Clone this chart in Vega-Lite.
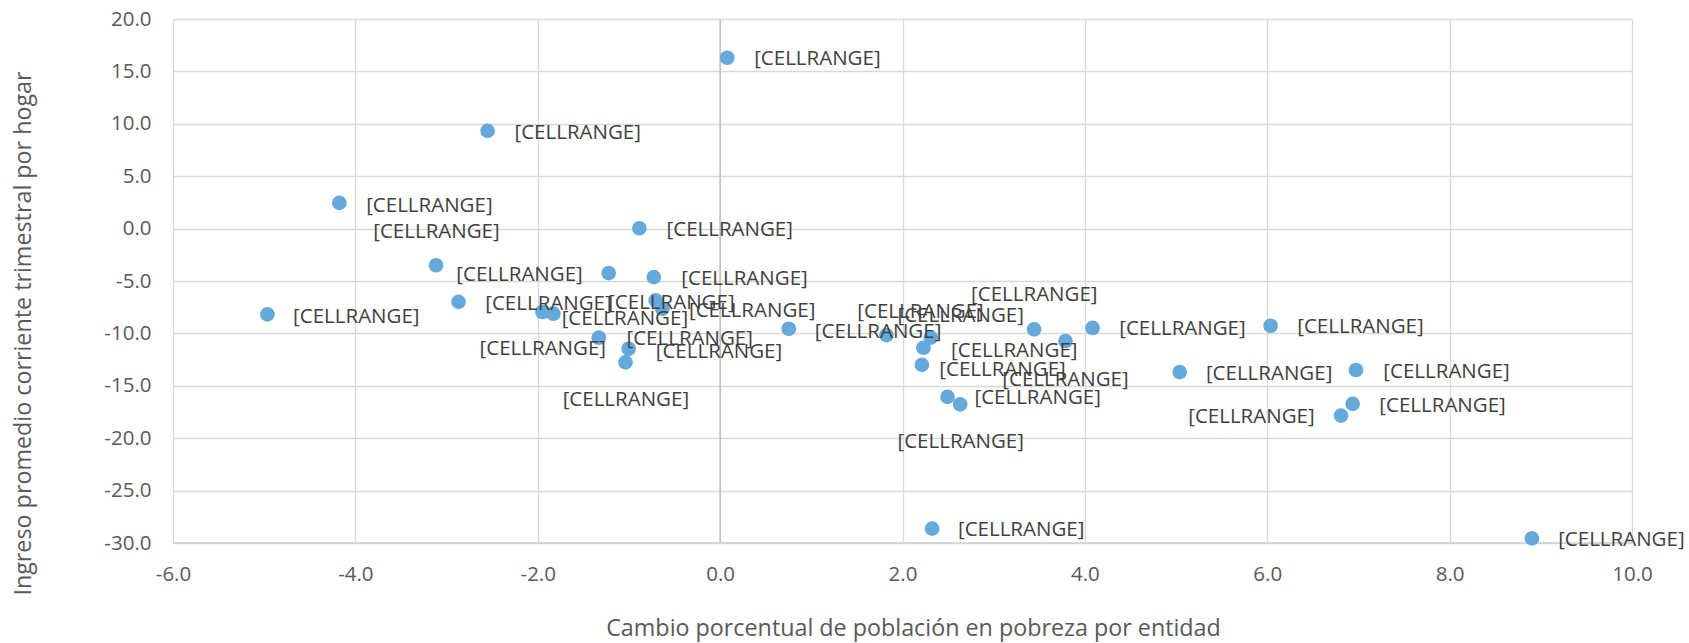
{
  "$schema": "https://vega.github.io/schema/vega-lite/v6.json",
  "width": 1459,
  "height": 524,
  "autosize": {"type": "none"},
  "padding": {"left": 173, "top": 19, "right": 57, "bottom": 100},
  "background": "white",
  "config": {
    "font": "Open Sans",
    "view": {"stroke": null},
    "axis": {
      "gridColor": "#d9d9d9",
      "gridWidth": 1.3,
      "domain": false,
      "ticks": false,
      "labelFlush": false,
      "labelOverlap": false,
      "labelFont": "Open Sans",
      "labelFontSize": 20.5,
      "labelColor": "#595959",
      "titleFont": "Open Sans",
      "titleFontSize": 23.3,
      "titleFontWeight": "normal",
      "titleColor": "#595959"
    }
  },
  "datasets": {
    "points": [
      {"x": -2.55, "y": 9.33}, {"x": -4.176, "y": 2.45}, {"x": -3.115, "y": -3.5}, {"x": -2.869, "y": -6.99},
      {"x": -4.965, "y": -8.18}, {"x": 0.078, "y": 16.3}, {"x": -0.886, "y": 0.03}, {"x": -1.222, "y": -4.25},
      {"x": -0.727, "y": -4.63}, {"x": -0.707, "y": -6.85}, {"x": -0.634, "y": -7.65}, {"x": -1.949, "y": -7.96},
      {"x": -1.829, "y": -8.12}, {"x": -1.331, "y": -10.41}, {"x": -1.003, "y": -11.47}, {"x": -1.038, "y": -12.77},
      {"x": 0.753, "y": -9.56}, {"x": 1.824, "y": -10.16}, {"x": 2.31, "y": -10.4}, {"x": 2.23, "y": -11.37},
      {"x": 2.213, "y": -13.0}, {"x": 2.493, "y": -16.06}, {"x": 2.632, "y": -16.77}, {"x": 3.443, "y": -9.61},
      {"x": 3.787, "y": -10.73}, {"x": 4.085, "y": -9.48}, {"x": 5.04, "y": -13.7}, {"x": 6.037, "y": -9.27},
      {"x": 6.973, "y": -13.49}, {"x": 6.937, "y": -16.73}, {"x": 6.809, "y": -17.84}, {"x": 8.902, "y": -29.56},
      {"x": 2.325, "y": -28.63}
    ],
    "labels": [
      {"lx": -2.255, "ly": 9.15, "t": "[CELLRANGE]"}, {"lx": -3.882, "ly": 2.2, "t": "[CELLRANGE]"},
      {"lx": -3.804, "ly": -0.29, "t": "[CELLRANGE]"}, {"lx": -2.893, "ly": -4.42, "t": "[CELLRANGE]"},
      {"lx": -2.576, "ly": -7.2, "t": "[CELLRANGE]"}, {"lx": -4.683, "ly": -8.43, "t": "[CELLRANGE]"},
      {"lx": 0.373, "ly": 16.14, "t": "[CELLRANGE]"}, {"lx": -0.588, "ly": -0.13, "t": "[CELLRANGE]"},
      {"lx": -0.426, "ly": -4.84, "t": "[CELLRANGE]"}, {"lx": -1.228, "ly": -7.14, "t": "[CELLRANGE]"},
      {"lx": -1.738, "ly": -8.67, "t": "[CELLRANGE]"}, {"lx": -0.342, "ly": -7.88, "t": "[CELLRANGE]"},
      {"lx": -2.638, "ly": -11.53, "t": "[CELLRANGE]"}, {"lx": -1.027, "ly": -10.57, "t": "[CELLRANGE]"},
      {"lx": -0.706, "ly": -11.76, "t": "[CELLRANGE]"}, {"lx": -1.727, "ly": -16.39, "t": "[CELLRANGE]"},
      {"lx": 1.039, "ly": -9.9, "t": "[CELLRANGE]"}, {"lx": 1.505, "ly": -8.0, "t": "[CELLRANGE]"},
      {"lx": 1.945, "ly": -8.35, "t": "[CELLRANGE]"}, {"lx": 2.752, "ly": -6.37, "t": "[CELLRANGE]"},
      {"lx": 2.532, "ly": -11.68, "t": "[CELLRANGE]"}, {"lx": 2.404, "ly": -13.49, "t": "[CELLRANGE]"},
      {"lx": 3.094, "ly": -14.47, "t": "[CELLRANGE]"}, {"lx": 2.789, "ly": -16.21, "t": "[CELLRANGE]"},
      {"lx": 1.945, "ly": -20.37, "t": "[CELLRANGE]"}, {"lx": 4.377, "ly": -9.59, "t": "[CELLRANGE]"},
      {"lx": 6.329, "ly": -9.43, "t": "[CELLRANGE]"}, {"lx": 5.327, "ly": -13.87, "t": "[CELLRANGE]"},
      {"lx": 7.273, "ly": -13.7, "t": "[CELLRANGE]"}, {"lx": 7.229, "ly": -16.9, "t": "[CELLRANGE]"},
      {"lx": 5.133, "ly": -18.0, "t": "[CELLRANGE]"}, {"lx": 9.19, "ly": -29.7, "t": "[CELLRANGE]"},
      {"lx": 2.608, "ly": -28.75, "t": "[CELLRANGE]"}
    ],
    "zero": [{"x0": 0}]
  },
  "layer": [
    {
      "data": {"name": "points"},
      "mark": {"type": "point", "opacity": 0},
      "encoding": {
        "x": {
          "field": "x", "type": "quantitative",
          "scale": {"domain": [-6, 10], "nice": false, "zero": false},
          "axis": {"values": [-6, -4, -2, 0, 2, 4, 6, 8, 10],
                   "labelExpr": "replace(format(datum.value, '.1f'), '\u2212', '-')",
                   "labelPadding": 21,
                   "title": "Cambio porcentual de población en pobreza por entidad",
                   "titleX": 740, "titleY": 85, "titleBaseline": "middle", "titleAlign": "center"}
        },
        "y": {
          "field": "y", "type": "quantitative",
          "scale": {"domain": [-30, 20], "nice": false, "zero": false},
          "axis": {"values": [-30, -25, -20, -15, -10, -5, 0, 5, 10, 15, 20],
                   "labelExpr": "replace(format(datum.value, '.1f'), '\u2212', '-')",
                   "labelPadding": 22,
                   "title": "Ingreso promedio corriente trimestral por hogar",
                   "titleX": -150, "titleY": 314, "titleAngle": -90, "titleBaseline": "middle", "titleAlign": "center"}
        }
      }
    },
    {
      "data": {"name": "zero"},
      "mark": {"type": "rule", "color": "#bfbfbf", "strokeWidth": 1.5},
      "encoding": {"x": {"field": "x0", "type": "quantitative"}}
    },
    {
      "data": {"values": [{"yb": -30}]},
      "mark": {"type": "rule", "color": "#d0d0d0", "strokeWidth": 1.5},
      "encoding": {"y": {"field": "yb", "type": "quantitative"}}
    },
    {
      "data": {"name": "points"},
      "mark": {"type": "circle", "size": 215, "color": "#64a8dc", "opacity": 1},
      "encoding": {
        "x": {"field": "x", "type": "quantitative"},
        "y": {"field": "y", "type": "quantitative"}
      }
    },
    {
      "data": {"name": "labels"},
      "mark": {"type": "text", "align": "left", "baseline": "middle", "font": "Open Sans", "fontSize": 20.5, "color": "#404040"},
      "encoding": {
        "x": {"field": "lx", "type": "quantitative"},
        "y": {"field": "ly", "type": "quantitative"},
        "text": {"field": "t"}
      }
    }
  ]
}
